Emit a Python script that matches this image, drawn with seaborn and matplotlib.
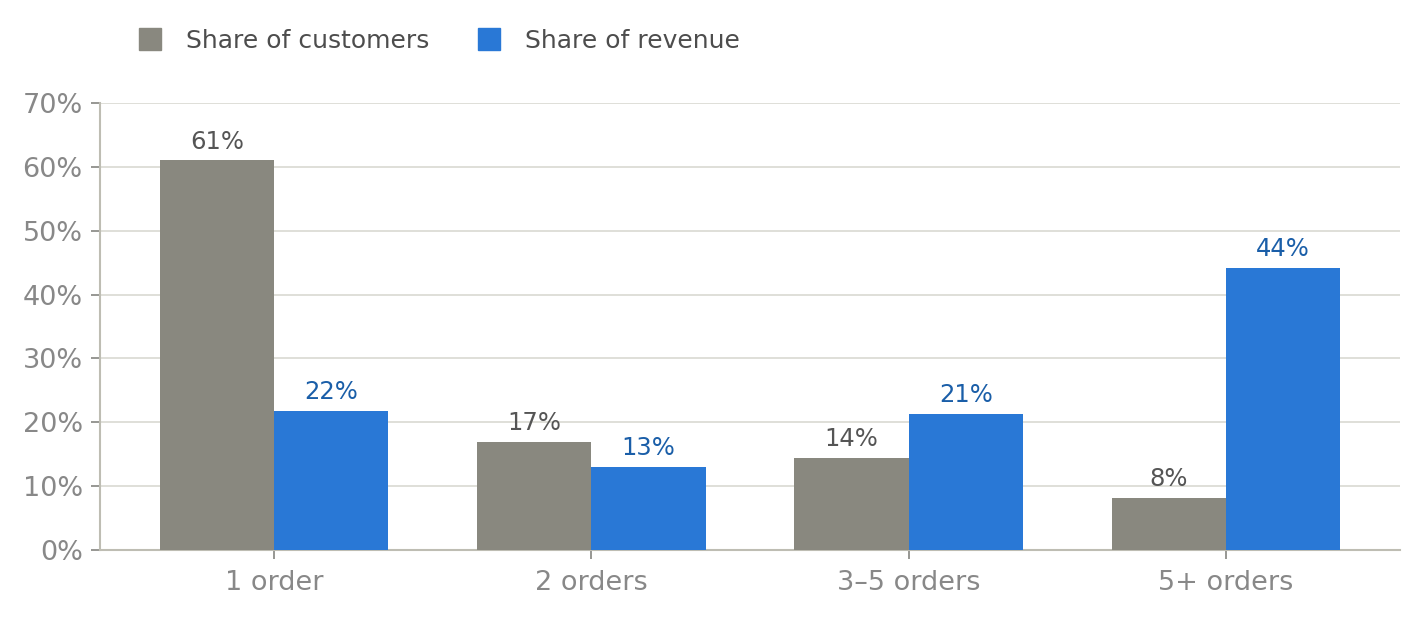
import matplotlib
matplotlib.use("Agg")
import matplotlib.pyplot as plt
import matplotlib.ticker as mticker
from matplotlib.lines import Line2D
import pandas as pd
import seaborn as sns

# -----------------------------
# Data
# -----------------------------
categories = ["1 order", "2 orders", "3\u20135 orders", "5+ orders"]
customers = [61.0, 16.9, 14.4, 8.1]
revenue = [21.8, 13.0, 21.3, 44.2]
series_names = ["Share of customers", "Share of revenue"]

gray = "#89887F"
blue = "#2978D6"
gray_text = "#555555"
blue_text = "#1A5EA8"
tick_color = "#888888"
spine_color = "#BEBDB3"
grid_color = "#DCDCD6"

df = pd.DataFrame({
    "bucket": categories * 2,
    "series": [series_names[0]] * len(categories) + [series_names[1]] * len(categories),
    "share": customers + revenue,
})

sns.set_theme(style="white")
plt.rcParams["font.family"] = ["DejaVu Sans"]

fig = plt.figure(figsize=(14.2, 6.17), dpi=100)
ax = fig.add_axes([100 / 1420, 67 / 617, 1300 / 1420, 447 / 617])

sns.barplot(
    data=df, x="bucket", y="share", hue="series",
    palette=[gray, blue], width=0.72, gap=0, saturation=1,
    order=categories, hue_order=series_names,
    legend=False, ax=ax, zorder=3, linewidth=0, edgecolor="none",
)

# value labels
for cont, col in zip(ax.containers, [gray_text, blue_text]):
    ax.bar_label(cont, labels=[f"{v:.0f}%" for v in cont.datavalues],
                 padding=5, color=col, fontsize=17.5)

ax.set_ylim(0, 70)
ax.set_xlim(-0.548, 3.548)
ax.yaxis.set_major_locator(mticker.MultipleLocator(10))
ax.yaxis.set_major_formatter(mticker.FuncFormatter(lambda v, p: f"{v:.0f}%"))

ax.grid(axis="y", color=grid_color, lw=1.3, zorder=0)
ax.set_axisbelow(True)

for side in ["top", "right"]:
    ax.spines[side].set_visible(False)
for side in ["left", "bottom"]:
    ax.spines[side].set_color(spine_color)
    ax.spines[side].set_linewidth(1.5)

ax.tick_params(axis="both", which="major", direction="out", length=6.5,
               width=1.3, color="#8F8F8A", labelcolor=tick_color,
               labelsize=19.5, left=True, bottom=True)
ax.tick_params(axis="x", pad=8)
ax.tick_params(axis="y", pad=6)
ax.set_xlabel("")
ax.set_ylabel("")

# legend above the plot
handles = [
    Line2D([0], [0], marker="s", linestyle="none", markersize=16,
           markerfacecolor=c, markeredgecolor=c)
    for c in [gray, blue]
]
fig.legend(handles, series_names, loc="center left",
           bbox_to_anchor=(112 / 1420, 1 - 41 / 617), ncol=2, frameon=False,
           fontsize=18, labelcolor="#4D4D4D", handletextpad=0.85,
           columnspacing=1.8, handlelength=1.2)

fig.savefig("out.png", dpi=100, facecolor="white")
